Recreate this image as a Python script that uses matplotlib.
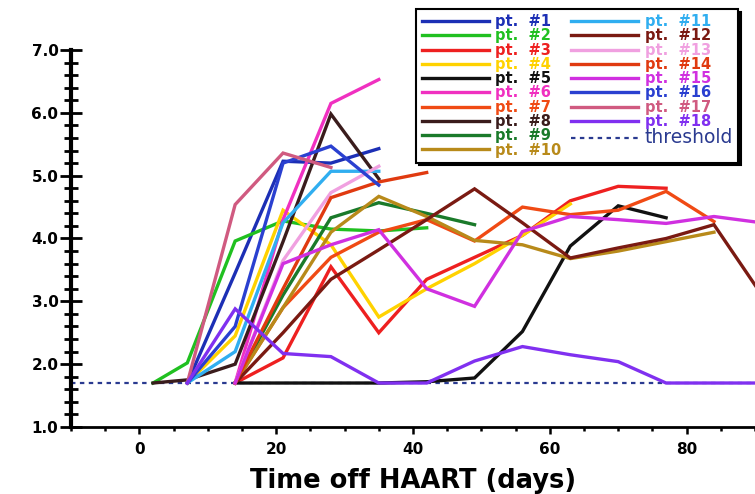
import numpy as np
import matplotlib.pyplot as plt
from matplotlib.ticker import MultipleLocator

# viral load (log10 copies/ml) vs days off HAART
d1 = [7, 14, 21, 28, 35]
v1 = [1.7, 3.45, 5.23, 5.2, 5.43]
d2 = [2, 7, 14, 21, 28, 35, 42]
v2 = [1.7, 2.02, 3.96, 4.28, 4.15, 4.12, 4.17]
d3 = [14, 21, 28, 35, 42, 49, 56, 63, 70, 77]
v3 = [1.7, 2.1, 3.55, 2.5, 3.35, 3.7, 4.05, 4.6, 4.83, 4.8]
d4 = [7, 14, 21, 28, 35, 42, 49, 56, 63]
v4 = [1.7, 2.45, 4.45, 3.9, 2.75, 3.2, 3.6, 4.05, 4.55]
d5 = [14, 21, 28, 35, 42, 49, 56, 63, 70, 77]
v5 = [1.7, 1.7, 1.7, 1.7, 1.72, 1.78, 2.52, 3.88, 4.52, 4.33]
d6 = [14, 21, 28, 35]
v6 = [1.7, 4.3, 6.15, 6.53]
d7 = [14, 21, 28, 35, 42, 49, 56, 63, 70, 77, 84]
v7 = [1.7, 2.9, 3.7, 4.1, 4.3, 3.96, 4.5, 4.38, 4.45, 4.75, 4.27]
d8 = [2, 7, 14, 21, 28, 35]
v8 = [1.7, 1.75, 2.0, 3.95, 5.98, 4.95]
d9 = [14, 21, 28, 35, 42, 49]
v9 = [1.7, 3.1, 4.33, 4.57, 4.4, 4.22]
d10 = [14, 21, 28, 35, 42, 49, 56, 63, 70, 77, 84]
v10 = [1.7, 2.9, 4.1, 4.67, 4.35, 3.97, 3.9, 3.68, 3.8, 3.95, 4.1]
d11 = [7, 14, 21, 28, 35]
v11 = [1.7, 2.2, 4.25, 5.07, 5.07]
d12 = [14, 21, 28, 35, 42, 49, 56, 63, 70, 77, 84, 91]
v12 = [1.7, 2.5, 3.35, 3.82, 4.3, 4.79, 4.25, 3.69, 3.85, 4.0, 4.22, 3.1]
d13 = [14, 21, 28, 35]
v13 = [1.7, 3.65, 4.73, 5.15]
d14 = [14, 21, 28, 35, 42]
v14 = [1.7, 3.2, 4.65, 4.9, 5.05]
d15 = [14, 21, 28, 35, 42, 49, 56, 63, 70, 77, 84, 91]
v15 = [1.7, 3.6, 3.9, 4.14, 3.2, 2.92, 4.11, 4.35, 4.3, 4.24, 4.35, 4.25]
d16 = [7, 14, 21, 28, 35]
v16 = [1.7, 2.6, 5.2, 5.47, 4.85]
d17 = [7, 14, 21, 28]
v17 = [1.7, 4.54, 5.36, 5.13]
d18 = [7, 14, 21, 28, 35, 42, 49, 56, 63, 70, 77, 84, 91]
v18 = [1.7, 2.88, 2.17, 2.12, 1.7, 1.7, 2.05, 2.28, 2.15, 2.04, 1.7, 1.7, 1.7]

threshold = 1.7

days = [d1, d2, d3, d4, d5, d6, d7, d8, d9, d10, d11, d12, d13, d14, d15, d16, d17, d18]
vals = [v1, v2, v3, v4, v5, v6, v7, v8, v9, v10, v11, v12, v13, v14, v15, v16, v17, v18]
colores = ['#1c2fb5', '#20c020', '#ee2020', '#ffd200', '#111111', '#f030c0',
           '#f04a14', '#3a1c1c', '#1a7a2a', '#b88a1a', '#30aef0', '#7a1a12',
           '#f0a0e0', '#e03a10', '#d030e0', '#2a40d0', '#d05a80', '#8030f0']

fig = plt.figure(figsize=(7.55, 4.94), dpi=100)
ax = fig.add_axes([71/755, 1 - 427/494, 1 - 71/755, (427 - 50)/494])

for i in range(len(days)):
    ax.plot(days[i], vals[i], color=colores[i], lw=2.4, label='pt.  #' + str(i + 1),
            solid_joinstyle='miter')
ax.axhline(threshold, color='#2a3a90', lw=1.6, ls=(0, (2, 2)), label='threshold', zorder=1)

ax.set_xlim(-10, 90)
ax.set_ylim(1.0, 7.0)
ax.xaxis.set_major_locator(MultipleLocator(20))
ax.xaxis.set_minor_locator(MultipleLocator(5))
ax.yaxis.set_major_locator(MultipleLocator(1))
ax.yaxis.set_minor_locator(MultipleLocator(0.2))
ax.yaxis.set_major_formatter('{x:.1f}')

for s in ['top', 'right']:
    ax.spines[s].set_visible(False)
ax.spines['left'].set_linewidth(3)
ax.spines['bottom'].set_linewidth(2)

ax.tick_params(axis='y', which='major', direction='inout', length=16, width=2, pad=1,
               labelsize=11)
ax.tick_params(axis='y', which='minor', direction='inout', length=10, width=2)
ax.tick_params(axis='x', which='major', direction='out', length=5, width=1.8, pad=6,
               labelsize=11)
ax.tick_params(axis='x', which='minor', direction='out', length=3, width=1.8)
for t in ax.get_xticklabels() + ax.get_yticklabels():
    t.set_fontweight('bold')

ax.set_xlabel('Time off HAART (days)', fontsize=18.5, fontweight='bold', labelpad=8)

leg = fig.legend(loc='upper right', bbox_to_anchor=(738/755, 1 - 9/494), ncol=2,
                 prop={'weight': 'bold', 'size': 10.5}, labelcolor='linecolor',
                 handlelength=4.6, handletextpad=0.45, columnspacing=0.65,
                 labelspacing=-0.05, borderpad=0.35, borderaxespad=0, fancybox=False,
                 shadow={'color': 'black', 'alpha': 1, 'ox': 2, 'oy': -2})
leg.get_frame().set_edgecolor('black')
leg.get_frame().set_linewidth(1.5)
leg.get_texts()[-1].set_fontsize(13.5)
leg.get_texts()[-1].set_fontweight('normal')

plt.savefig('out.png', dpi=100)
